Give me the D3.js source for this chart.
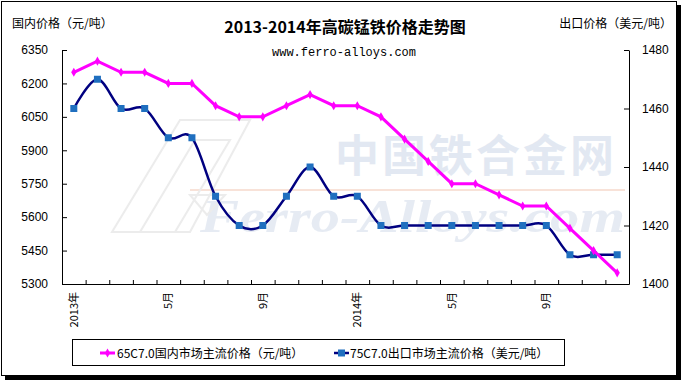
<!DOCTYPE html>
<html>
<head>
<meta charset="utf-8">
<script src="https://cdn.jsdelivr.net/npm/d3@7"></script>
<style>
  body { margin: 0; background: #fff; }
  text { font-family: "Liberation Sans", Arial, sans-serif; }
  .cjk { font-family: "Noto Sans CJK SC", sans-serif; }
</style>
</head>
<body>
<script>
// months Jan 2013 .. Dec 2014
const months = ['2013-01','2013-02','2013-03','2013-04','2013-05','2013-06','2013-07','2013-08','2013-09','2013-10','2013-11','2013-12',
                '2014-01','2014-02','2014-03','2014-04','2014-05','2014-06','2014-07','2014-08','2014-09','2014-10','2014-11','2014-12'];
const monthLabels = ['2013年','','','','5月','','','','9月','','','','2014年','','','','5月','','','','9月','','',''];
const domestic = [6250,6300,6250,6250,6200,6200,6100,6050,6050,6100,6150,6100,6100,6050,5950,5850,5750,5750,5700,5650,5650,5550,5450,5350];
const exportPrice = [1460,1470,1460,1460,1450,1450,1430,1420,1420,1430,1440,1430,1430,1420,1420,1420,1420,1420,1420,1420,1420,1410,1410,1410];
const leftTicks = [5300,5450,5600,5750,5900,6050,6200,6350];
const rightTicks = [1400,1420,1440,1460,1480];

const [w, h] = [684, 383];
const [plotL, plotR, plotT, plotB] = [62, 629, 50, 284];

const svg = d3.select('body').append('svg')
  .attr('width', w).attr('height', h);

// frame with shadow
svg.append('rect').attr('x', 5).attr('y', 5).attr('width', 676).attr('height', 375).attr('fill', '#000');
svg.append('rect').attr('x', 1.5).attr('y', 1.5).attr('width', 675).attr('height', 374)
  .attr('fill', '#fff').attr('stroke', '#000').attr('stroke-width', 1);

// watermark
const wm = svg.append('g').attr('opacity', 0.4);
wm.append('text').attr('class', 'cjk').attr('x', 335).attr('y', 172)
  .attr('font-size', 44).style('font-weight', 'bold').attr('fill', '#b9c8e0')
  .attr('letter-spacing', 3).text('中国铁合金网');
wm.append('line').attr('x1', 190).attr('x2', 625).attr('y1', 190).attr('y2', 190)
  .attr('stroke', '#f0b8a0').attr('stroke-width', 2);
wm.append('text').attr('x', 200).attr('y', 232)
  .style('font-family', 'Liberation Serif, serif').attr('font-size', 46)
  .style('font-style', 'italic').style('font-weight', 'bold').attr('fill', '#c3cfe3')
  .attr('textLength', 425).attr('lengthAdjust', 'spacingAndGlyphs')
  .text('Ferro-Alloys.com');
wm.append('path').attr('d', 'M112,232 L180,120 L250,120 L190,232 Z M140,232 L195,140 L230,140 L175,232 Z M190,195 L225,195 L207,215 Z')
  .attr('fill', 'none').attr('stroke', '#d0d0d0').attr('stroke-width', 2);

// scales
const x = d3.scaleLinear().domain([0, months.length]).range([plotL, plotR]);
const yL = d3.scaleLinear().domain([5300, 6350]).range([plotB, plotT]);
const yR = d3.scaleLinear().domain([1400, 1480]).range([plotB, plotT]);

// axes
const axL = svg.append('g').attr('transform', `translate(${plotL},0)`)
  .call(d3.axisLeft(yL).tickValues(leftTicks).tickFormat(d3.format('d'))
    .tickSizeInner(-5).tickSizeOuter(0).tickPadding(14));
const axR = svg.append('g').attr('transform', `translate(${plotR},0)`)
  .call(d3.axisRight(yR).tickValues(rightTicks).tickFormat(d3.format('d'))
    .tickSizeInner(-5).tickSizeOuter(0).tickPadding(13));
const axB = svg.append('g').attr('transform', `translate(0,${plotB})`)
  .call(d3.axisBottom(x).tickValues(d3.range(months.length + 1)).tickSizeInner(-4).tickSizeOuter(0).tickFormat(''));
[axL, axR, axB].forEach(a => {
  a.selectAll('path, line').attr('stroke', '#000');
  a.selectAll('text').attr('font-size', 12).attr('fill', '#000');
});

// month labels (rotated)
svg.append('g').selectAll('text')
  .data(months)
  .join('text')
  .attr('class', 'cjk')
  .attr('font-size', 11)
  .attr('text-anchor', 'end')
  .attr('transform', (d, i) => `translate(${x(i + 0.5) + 4},${plotB + 8}) rotate(-90)`)
  .text((d, i) => monthLabels[i]);

// lines
const lineL = d3.line().x((d, i) => x(i + 0.5)).y(d => yL(d));
const lineR = d3.line().x((d, i) => x(i + 0.5)).y(d => yR(d)).curve(d3.curveCardinal.tension(0));

svg.append('path').datum(exportPrice).attr('d', lineR)
  .attr('fill', 'none').attr('stroke', '#000080').attr('stroke-width', 2.5);
svg.append('g').selectAll('rect')
  .data(exportPrice)
  .join('rect')
  .attr('x', (d, i) => x(i + 0.5) - 3.5)
  .attr('y', d => yR(d) - 3.5)
  .attr('width', 7).attr('height', 7)
  .attr('fill', '#1f6fbf');

svg.append('path').datum(domestic).attr('d', lineL)
  .attr('fill', 'none').attr('stroke', '#ff00ff').attr('stroke-width', 3);
const diamond = d3.symbol().type(d3.symbolDiamond).size(24);
svg.append('g').selectAll('path')
  .data(domestic)
  .join('path')
  .attr('d', diamond)
  .attr('transform', (d, i) => `translate(${x(i + 0.5)},${yL(d)})`)
  .attr('fill', '#ff00ff');

// titles
svg.append('text').attr('class', 'cjk').attr('x', 345).attr('y', 33)
  .attr('text-anchor', 'middle').attr('font-size', 16).style('font-weight', 'bold')
  .text('2013-2014年高碳锰铁价格走势图');
svg.append('text').attr('x', 344).attr('y', 56).attr('text-anchor', 'middle')
  .style('font-family', '"Liberation Mono", "DejaVu Sans Mono", monospace').attr('font-size', 12)
  .text('www.ferro-alloys.com');
svg.append('text').attr('class', 'cjk').attr('x', 12).attr('y', 28)
  .attr('font-size', 12).text('国内价格（元/吨）');
svg.append('text').attr('class', 'cjk').attr('x', 672).attr('y', 28)
  .attr('text-anchor', 'end').attr('font-size', 12).text('出口价格（美元/吨）');

// legend
const lg = svg.append('g');
lg.append('rect').attr('x', 72.5).attr('y', 339.5).attr('width', 492).attr('height', 26)
  .attr('fill', '#fff').attr('stroke', '#000');
lg.append('line').attr('x1', 100).attr('x2', 115).attr('y1', 353).attr('y2', 353)
  .attr('stroke', '#ff00ff').attr('stroke-width', 3);
lg.append('path').attr('d', diamond).attr('transform', 'translate(107.5,353)').attr('fill', '#ff00ff');
lg.append('text').attr('class', 'cjk').attr('x', 117).attr('y', 357.5).attr('font-size', 12)
  .text('65C7.0国内市场主流价格（元/吨）');
lg.append('line').attr('x1', 334).attr('x2', 349).attr('y1', 353).attr('y2', 353)
  .attr('stroke', '#000080').attr('stroke-width', 2.5);
lg.append('rect').attr('x', 338).attr('y', 349.5).attr('width', 7).attr('height', 7).attr('fill', '#1f6fbf');
lg.append('text').attr('class', 'cjk').attr('x', 350).attr('y', 357.5).attr('font-size', 12)
  .text('75C7.0出口市场主流价格（美元/吨）');
</script>
</body>
</html>
